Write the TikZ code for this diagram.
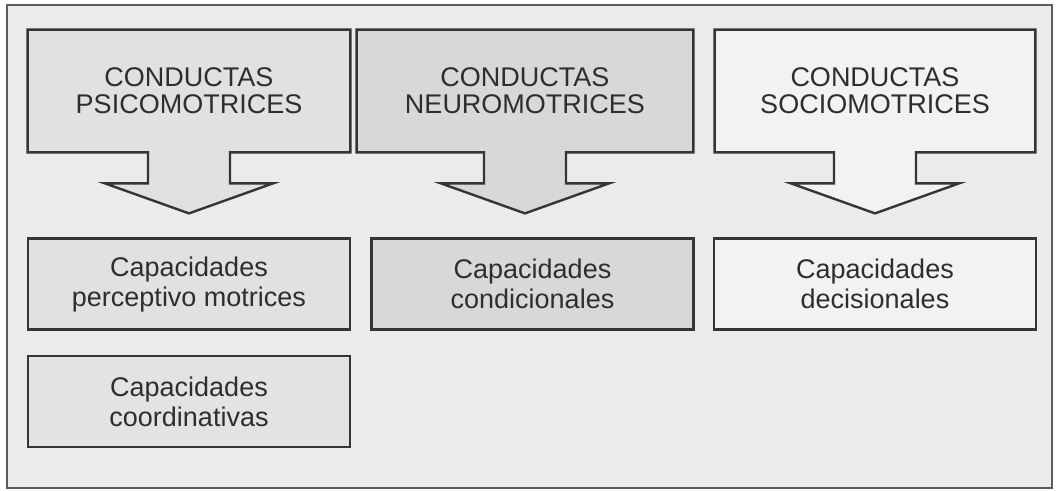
\documentclass[tikz,border=0pt]{standalone}
\usepackage{fontspec}
\setmainfont{Liberation Sans}
\usepackage{xcolor}
\usetikzlibrary{positioning, backgrounds}

\definecolor{paper}{HTML}{EBEBEB}
\definecolor{edge}{HTML}{353535}
\definecolor{ink}{HTML}{2E2E2E}
\definecolor{topA}{HTML}{E1E1E1}
\definecolor{topB}{HTML}{D8D8D8}
\definecolor{topC}{HTML}{F2F2F2}

\begin{document}
\begin{tikzpicture}[x=0.5pt, y=0.5pt, node distance=42.5pt, auto]
\tikzstyle{conducta} = [rectangle, align=center, minimum width=161pt, minimum height=61pt, inner sep=0pt, text=ink, font=\fontsize{13.5}{13.5}\selectfont]
\tikzstyle{capacidad} = [rectangle, draw=edge, line width=1.2pt, align=center, minimum width=161pt, minimum height=45.5pt, inner sep=0pt, text=ink, font=\fontsize{13.5}{15}\selectfont]
\tikzstyle{flecha} = [draw=edge, line width=1.2pt, line join=miter]
\useasboundingbox (0,0) rectangle (1057,491);
\node [conducta] (psico) at (189,400) {CONDUCTAS\\PSICOMOTRICES};
\node [conducta, minimum width=168pt] (neuro) at (525,400) {CONDUCTAS\\NEUROMOTRICES};
\node [conducta, minimum width=160pt] (socio) at (875,400) {CONDUCTAS\\SOCIOMOTRICES};
\node [capacidad, below=of psico, fill=topA] (perceptivo) {Capacidades\\perceptivo motrices};
\node [capacidad, below=12pt of perceptivo, fill=topA!80!paper] (coordinativas) {Capacidades\\coordinativas};
\node [capacidad, below=of neuro, xshift=3.75pt, fill=topB] (condicionales) {Capacidades\\condicionales};
\node [capacidad, below=of socio, fill=topC] (decisionales) {Capacidades\\decisionales};
\begin{pgfonlayer}{background}
\draw [fill=paper, draw=edge!80, line width=1pt] (7,3) rectangle (1052,486);
\foreach \n/\c in {psico/topA, neuro/topB, socio/topC}
  \path [flecha, fill=\c] (\n.north west) -- (\n.north east) -- (\n.south east)
    -- ([xshift=20.5pt]\n.south) -- ++(0pt,-15.5pt) -- ++(21.5pt,0pt)
    -- ([yshift=-30.5pt]\n.south)
    -- ([shift={(-42pt,-15.5pt)}]\n.south) -- ++(21.5pt,0pt)
    -- ([xshift=-20.5pt]\n.south) -- (\n.south west) -- cycle;
\end{pgfonlayer}
\end{tikzpicture}
\end{document}
